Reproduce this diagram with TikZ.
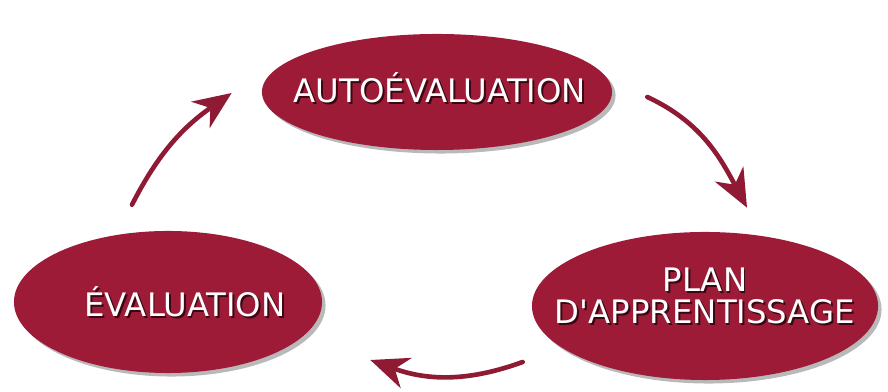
\documentclass[tikz,border=0pt]{standalone}
\usepackage{fontspec}
\setmainfont{DejaVu Sans}
\usepackage{tikz}
\usetikzlibrary{arrows.meta}
\usetikzlibrary{shapes.geometric}
\usetikzlibrary{shadows}
\usetikzlibrary{calc}
\definecolor{cyclered}{HTML}{9E1B37}
\definecolor{arrowred}{HTML}{8E1A34}
\definecolor{textshade}{HTML}{3A0812}
\newcommand{\emb}[1]{\makebox[0pt][l]{\kern1.3pt\raisebox{-1.3pt}{\textcolor{textshade}{#1}}}\textcolor{white}{#1}}

\begin{document}
\begin{tikzpicture}[line cap=round,line join=round,x=0.025cm,y=0.025cm,
    blob/.style={ellipse,fill=cyclered,inner sep=0pt,drop shadow={shadow xshift=2.5pt,shadow yshift=-2.5pt,opacity=0.55}},
    lbl/.style={font=\fontsize{23}{23}\selectfont,align=center,inner sep=0pt},
    cycarrow/.style={color=arrowred,line width=3.3pt,-{Stealth[length=0.95cm,width=0.8cm,inset=0.3cm]}}]
        \useasboundingbox (0,0) rectangle (888,392);
        % the three stages
        \foreach \n/\x/\y/\w/\h in {auto/437/300/8.75/2.9,eval/168/90/7.7/3.55,plan/705/86/8.65/3.7}
        \node[blob,minimum width=\w cm,minimum height=\h cm] (\n) at (\x,\y) {};
        \node[lbl,anchor=base] (autotxt) at ($(auto.center)+(3,-11)$) {\emb{AUTOÉVALUATION}};
        \node[lbl,anchor=base] (evaltxt) at ($(eval.center)+(17,-15)$) {\emb{ÉVALUATION}};
        \node[lbl] (plantxt) at ($(plan.center)+(0,9)$) {\emb{PLAN}\\\emb{D\textquotesingle APPRENTISSAGE}};
        % arrows of the cycle
        \draw[cycarrow] ($(eval.north)+(-36,26)$) to[out=63,in=215] ($(auto.west)+(-30,-1)$);
        \draw[cycarrow] ($(auto.east)+(35,-5)$) to[out=-25,in=118] ($(plan.north)+(42,24)$);
        \draw[cycarrow] ($(plan.west)+(-9,-56)$) to[out=200,in=-20] ($(eval.east)+(48,-58)$);
      \end{tikzpicture}
\end{document}
